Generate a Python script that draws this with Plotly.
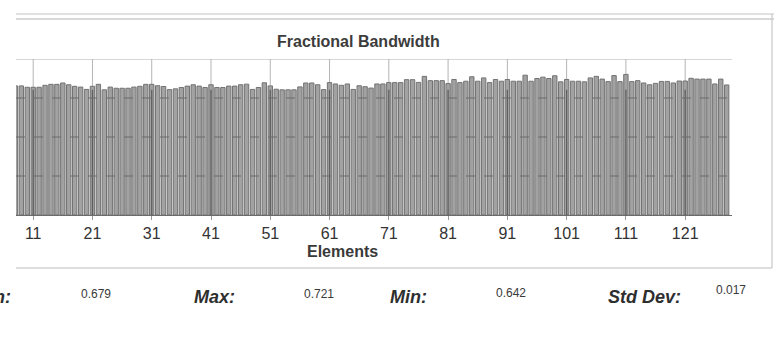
import plotly.graph_objects as go

# ---------------- data ----------------
elements = list(range(8, 129))  # visible elements (left part of chart is cropped)
bandwidth = [
    0.662, 0.662, 0.655, 0.655, 0.655, 0.665, 0.670, 0.670, 0.677, 0.668,   # 8-17
    0.660, 0.656, 0.644, 0.660, 0.670, 0.642, 0.656, 0.650, 0.650, 0.650,   # 18-27
    0.656, 0.660, 0.670, 0.670, 0.663, 0.659, 0.643, 0.647, 0.654, 0.661,   # 28-37
    0.668, 0.661, 0.654, 0.668, 0.654, 0.654, 0.661, 0.661, 0.668, 0.671,   # 38-47
    0.644, 0.654, 0.678, 0.662, 0.645, 0.642, 0.642, 0.642, 0.657, 0.677,   # 48-57
    0.677, 0.668, 0.643, 0.679, 0.672, 0.665, 0.672, 0.644, 0.663, 0.658,   # 58-67
    0.651, 0.672, 0.672, 0.679, 0.679, 0.679, 0.694, 0.694, 0.680, 0.711,   # 68-77
    0.689, 0.689, 0.689, 0.674, 0.695, 0.679, 0.686, 0.709, 0.686, 0.703,   # 78-87
    0.679, 0.695, 0.686, 0.695, 0.686, 0.686, 0.717, 0.686, 0.700, 0.707,   # 88-97
    0.700, 0.714, 0.683, 0.695, 0.686, 0.686, 0.683, 0.703, 0.711, 0.697,   # 98-107
    0.684, 0.715, 0.684, 0.721, 0.684, 0.689, 0.677, 0.668, 0.675, 0.685,   # 108-117
    0.685, 0.677, 0.687, 0.687, 0.701, 0.697, 0.697, 0.697, 0.672, 0.697,   # 118-127
    0.667,                                                                  # 128
]
x_ticks = [11, 21, 31, 41, 51, 61, 71, 81, 91, 101, 111, 121]
y_grid = [0.2, 0.4, 0.6]
y_top = 0.8
title_text = "Fractional Bandwidth"
x_title = "Elements"
stat_labels = ["Mean:", "Max:", "Min:", "Std Dev:"]
stat_values = ["0.679", "0.721", "0.642", "0.017"]

# ---------------- figure ----------------
W, H = 774, 346
L, R, T, B = 16, 42, 59, 131
pw, ph = W - L - R, H - T - B

def px(x):
    return (x - L) / pw

def py(y):
    return (H - B - y) / ph

FONT = "Liberation Sans, Arial, sans-serif"

fig = go.Figure()
fig.add_trace(go.Bar(
    x=elements, y=bandwidth,
    marker=dict(color="#a2a2a2", line=dict(color="#727272", width=1)),
    width=0.74,
))

shapes = []
# vertical gridlines: light above bars, darker over bars
for t in x_ticks:
    shapes.append(dict(type="line", xref="x", yref="y", x0=t, x1=t, y0=0, y1=y_top,
                       line=dict(color="#b4b4b4", width=1), layer="below"))
    shapes.append(dict(type="line", xref="x", yref="y", x0=t, x1=t, y0=0, y1=min(bandwidth),
                       line=dict(color="#5e5e5e", width=1.3), layer="above"))
# horizontal dashed gridlines over bars
for g in y_grid:
    shapes.append(dict(type="line", xref="paper", yref="y", x0=0, x1=1, y0=g, y1=g,
                       line=dict(color="#6a6a6a", width=1, dash="dash"), layer="above"))
# top line of plot area
shapes.append(dict(type="line", xref="paper", yref="y", x0=0, x1=1, y0=y_top, y1=y_top,
                   line=dict(color="#b0b0b0", width=1.2), layer="below"))
# outer frame (paper coords)
for yy, c in [(14, "#c4c4c4"), (19, "#b2b2b2")]:
    shapes.append(dict(type="line", xref="paper", yref="paper", x0=px(16), x1=px(774),
                       y0=py(yy), y1=py(yy), line=dict(color=c, width=1.2)))
shapes.append(dict(type="line", xref="paper", yref="paper", x0=px(772), x1=px(772),
                   y0=py(14), y1=py(268), line=dict(color="#c8c8c8", width=1.2)))
shapes.append(dict(type="line", xref="paper", yref="paper", x0=px(16), x1=px(772),
                   y0=py(268), y1=py(268), line=dict(color="#bdbdbd", width=1.2)))

annotations = [
    dict(text="<b>%s</b>" % title_text, x=px(358), y=py(42), xref="paper", yref="paper",
         showarrow=False, xanchor="center", yanchor="middle",
         font=dict(family=FONT, size=16, color="#3c3c3c")),
    dict(text="<b>%s</b>" % x_title, x=px(342), y=py(251), xref="paper", yref="paper",
         showarrow=False, xanchor="center", yanchor="middle",
         font=dict(family=FONT, size=16, color="#3a3a3a")),
]
label_x = [13, 192, 388, 606]
value_x = [79, 302, 494, 714]
value_y = [294, 294, 293, 290]
for lab, val, lx, vx, vy in zip(stat_labels, stat_values, label_x, value_x, value_y):
    annotations.append(dict(text="<b><i>%s</i></b>" % lab, x=px(lx), y=py(297),
                            xref="paper", yref="paper", showarrow=False,
                            xanchor="right" if lab == "Mean:" else "left", yanchor="middle",
                            font=dict(family=FONT, size=18, color="#2e2e2e")))
    annotations.append(dict(text=val, x=px(vx), y=py(vy), xref="paper", yref="paper",
                            showarrow=False, xanchor="left", yanchor="middle",
                            font=dict(family=FONT, size=12, color="#3a3a3a")))

fig.update_layout(
    width=W, height=H,
    margin=dict(l=L, r=R, t=T, b=B, pad=0),
    paper_bgcolor="white", plot_bgcolor="white",
    showlegend=False, bargap=0.1,
    shapes=shapes, annotations=annotations,
    xaxis=dict(range=[8.1, 128.9], tickmode="array", tickvals=x_ticks,
               ticktext=[str(t) for t in x_ticks], showgrid=False, zeroline=False,
               showline=True, linecolor="#6b6b6b", linewidth=1,
               ticks="outside", ticklen=4, tickcolor="#9a9a9a", tickwidth=1,
               tickfont=dict(family=FONT, size=16, color="#333333")),
    yaxis=dict(range=[0, y_top], showgrid=False, zeroline=False, showticklabels=False,
               showline=False, ticks=""),
)

fig.write_html("out.html")
